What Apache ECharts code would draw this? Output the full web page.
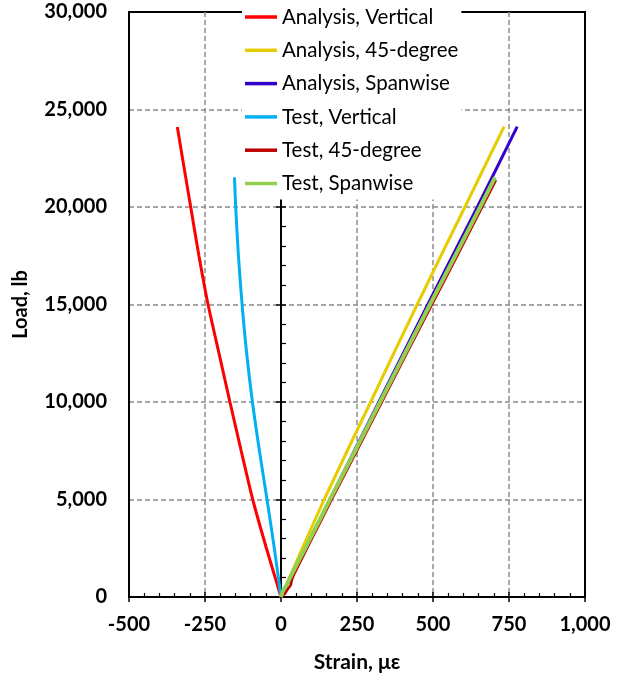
<!DOCTYPE html>
<html>
<head>
<meta charset="utf-8">
<script src="https://cdn.jsdelivr.net/npm/echarts@6/dist/echarts.min.js"></script>
<style>
  html, body { margin: 0; padding: 0; background: #fff; }
  #chart { width: 623px; height: 680px; }
</style>
</head>
<body>
<div id="chart"></div>
<script>
// Axis ticks
const strainTicks = [-500, -250, 0, 250, 500, 750, 1000];
const loadTicks = [0, 5000, 10000, 15000, 20000, 25000, 30000];

// Analysis, Vertical
const loadAV   = [0, 2500, 5000, 7500, 10000, 12500, 15000, 17500, 20000, 22500, 24100];
const strainAV = [0, -48, -93, -131, -168, -204, -240, -270, -297, -324, -341];

// Analysis, 45-degree
const loadA45   = [0, 2500, 5000, 7500, 10000, 12500, 15000, 17500, 20000, 22500, 24120];
const strainA45 = [0, 70, 142, 218, 295, 371, 448, 526, 605, 683, 734];

// Analysis, Spanwise
const loadAS   = [0, 5000, 10000, 15000, 20000, 24120];
const strainAS = [0, 161, 322, 483, 646, 777];

// Test, Vertical
const loadTV   = [0, 2500, 5000, 7500, 10000, 12500, 15000, 17500, 20000, 21520];
const strainTV = [0, -22, -46, -71, -94, -113, -128, -140, -149, -153];

// Test, 45-degree
const loadT45   = [0, 150, 400, 600, 700, 900, 1200, 2000, 3000, 4000, 5000, 7500, 10000, 12500, 15000, 17500, 20000, 21000, 21380];
const strainT45 = [0, 12, 22, 32, 26, 36, 44, 70, 102, 135, 167, 250, 332, 414, 497, 580, 662, 695, 707];

// Test, Spanwise
const loadTS   = [0, 300, 600, 1000, 2000, 3000, 4000, 5000, 7500, 10000, 12500, 15000, 17500, 20000, 21520];
const strainTS = [0, 6, 18, 30, 63, 96, 129, 161, 244, 326, 408, 490, 573, 655, 704];

const seriesDefs = [
  { name: 'Analysis, Vertical',  strain: strainAV,  load: loadAV,  color: '#FF0000', width: 3,   smooth: 0.2 },
  { name: 'Analysis, 45-degree', strain: strainA45, load: loadA45, color: '#E6CC00', width: 3,   smooth: false },
  { name: 'Analysis, Spanwise',  strain: strainAS,  load: loadAS,  color: '#3300CC', width: 3,   smooth: false },
  { name: 'Test, Vertical',      strain: strainTV,  load: loadTV,  color: '#00B0F0', width: 3,   smooth: 0.3 },
  { name: 'Test, 45-degree',     strain: strainT45, load: loadT45, color: '#C00000', width: 2.5, smooth: false },
  { name: 'Test, Spanwise',      strain: strainTS,  load: loadTS,  color: '#92D050', width: 4,   smooth: false }
];

const FONT = 'Lato';
const fmt = v => Number(v).toLocaleString('en-US');
const gridDash = { color: '#8c8c8c', width: 1.5, type: [5, 3] };

const chart = echarts.init(document.getElementById('chart'), null, { renderer: 'canvas' });

chart.setOption({
  animation: false,
  backgroundColor: '#fff',
  grid: {
    left: 129, right: 38, top: 12, bottom: 83,
    show: true, borderColor: '#000', borderWidth: 2, backgroundColor: 'transparent'
  },
  legend: {
    orient: 'vertical',
    left: 242, top: 0,
    padding: [6, 3, 5, 3],
    backgroundColor: '#fff',
    icon: 'rect',
    itemWidth: 32, itemHeight: 3.5,
    itemGap: 11.3,
    textStyle: { fontFamily: FONT, fontSize: 20.5, color: '#000', lineHeight: 22 },
    data: seriesDefs.map(s => s.name)
  },
  xAxis: [
    {
      type: 'value',
      min: strainTicks[0], max: strainTicks[strainTicks.length - 1],
      interval: strainTicks[1] - strainTicks[0],
      position: 'bottom',
      name: 'Strain, με', nameLocation: 'middle', nameGap: 55,
      nameTextStyle: { fontFamily: FONT, fontSize: 21, fontWeight: 'bold', color: '#000' },
      axisLine: { onZero: false, lineStyle: { color: '#000', width: 2 } },
      axisTick: { show: true, inside: false, length: 5, lineStyle: { color: '#000', width: 1.5 } },
      axisLabel: { fontFamily: FONT, fontSize: 20, fontWeight: 'bold', color: '#000', margin: 18, formatter: fmt },
      splitLine: { show: true, showMinLine: false, showMaxLine: false, lineStyle: gridDash }
    },
    {
      type: 'value',
      min: strainTicks[0], max: strainTicks[strainTicks.length - 1],
      interval: strainTicks[1] - strainTicks[0],
      position: 'bottom',
      axisLine: { show: false, onZero: false },
      axisTick: { show: true, inside: true, length: 5, lineStyle: { color: '#000', width: 1.5 } },
      minorTick: { show: true, splitNumber: 5, length: 4, lineStyle: { color: '#000', width: 1.2 } },
      axisLabel: { show: false },
      splitLine: { show: false }
    }
  ],
  yAxis: [
    {
      type: 'value',
      min: loadTicks[0], max: loadTicks[loadTicks.length - 1],
      interval: loadTicks[1] - loadTicks[0],
      position: 'left',
      name: 'Load, lb', nameLocation: 'middle', nameGap: 98, nameRotate: 90,
      nameTextStyle: { fontFamily: FONT, fontSize: 20, fontWeight: 'bold', color: '#000' },
      axisLine: { show: true, onZero: false, lineStyle: { color: '#000', width: 2 } },
      axisTick: { show: false },
      axisLabel: { fontFamily: FONT, fontSize: 20, fontWeight: 'bold', color: '#000', margin: 22, formatter: fmt },
      splitLine: { show: true, showMinLine: false, showMaxLine: false, lineStyle: gridDash }
    },
    {
      // vertical axis crossing at zero strain
      type: 'value',
      min: loadTicks[0], max: loadTicks[loadTicks.length - 1],
      interval: loadTicks[1] - loadTicks[0],
      position: 'left', offset: -152,
      axisLine: { show: true, onZero: false, lineStyle: { color: '#000', width: 2 } },
      axisTick: { show: true, inside: false, length: 5, lineStyle: { color: '#000', width: 1.5 } },
      axisLabel: { show: false },
      splitLine: { show: false }
    },
    {
      type: 'value',
      min: loadTicks[0], max: loadTicks[loadTicks.length - 1],
      interval: loadTicks[1] - loadTicks[0],
      position: 'left', offset: -152,
      axisLine: { show: false, onZero: false },
      axisTick: { show: true, inside: true, length: 5, lineStyle: { color: '#000', width: 1.5 } },
      minorTick: { show: true, splitNumber: 5, length: 5, lineStyle: { color: '#000', width: 1.2 } },
      axisLabel: { show: false },
      splitLine: { show: false }
    }
  ],
  series: seriesDefs.map(s => ({
    name: s.name,
    type: 'line',
    xAxisIndex: 0, yAxisIndex: 0,
    showSymbol: false, symbol: 'none',
    smooth: s.smooth,
    color: s.color,
    lineStyle: { color: s.color, width: s.width },
    data: s.strain.map((x, i) => [x, s.load[i]])
  }))
});
</script>
</body>
</html>
